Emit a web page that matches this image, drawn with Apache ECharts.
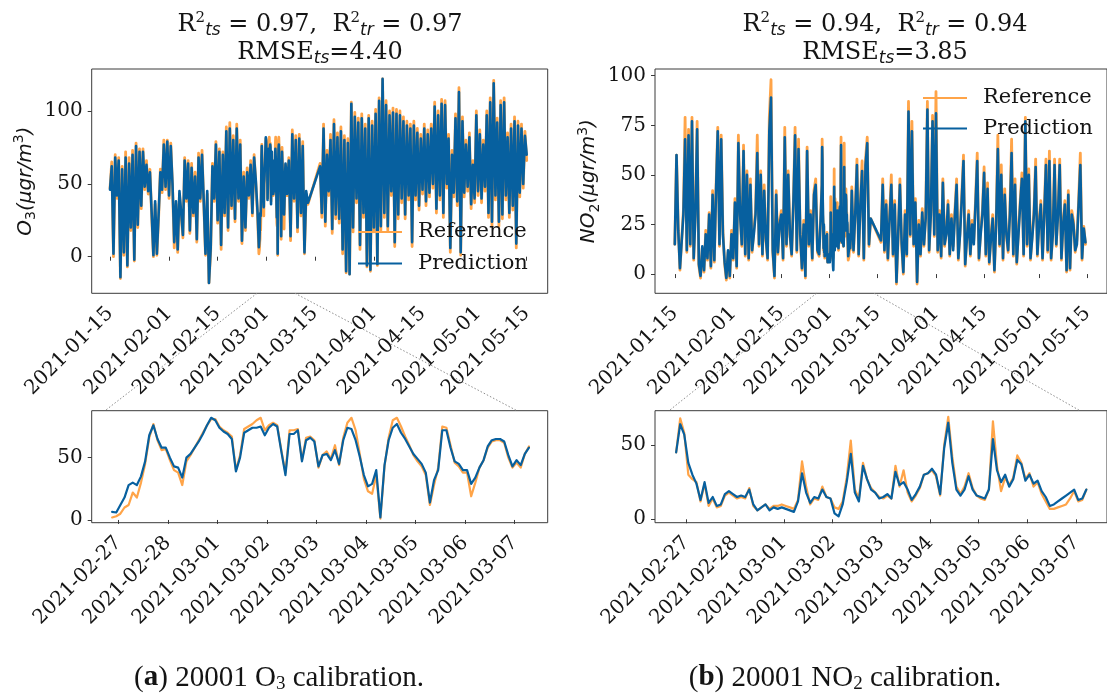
<!DOCTYPE html>
<html>
<head>
<meta charset="utf-8">
<script src="https://cdn.jsdelivr.net/npm/echarts@6/dist/echarts.min.js"></script>
<style>
  html, body { margin: 0; padding: 0; background: #ffffff; }
  #chart { width: 1107px; height: 693px; }
</style>
</head>
<body>
<div id="chart"></div>
<script>
// ---------- time helpers ----------
const HOUR = 3600e3, DAY = 24 * HOUR;
const utc = (y, m, d, h = 0, mi = 0) => Date.UTC(y, m - 1, d, h, mi);

// ---------- tick labels ----------
const overviewTicks = ['2021-01-15', '2021-02-01', '2021-02-15', '2021-03-01', '2021-03-15',
                       '2021-04-01', '2021-04-15', '2021-05-01', '2021-05-15'];
const detailTicks = ['2021-02-27', '2021-02-28', '2021-03-01', '2021-03-02', '2021-03-03',
                     '2021-03-04', '2021-03-05', '2021-03-06', '2021-03-07'];
const o3OverviewY = [0, 50, 100];
const no2OverviewY = [0, 25, 50, 75, 100];
const o3DetailY = [0, 50];
const no2DetailY = [0, 50];

// ---------- O3 (µg/m³) ----------
// 12-hourly, from 2021-01-15 00:00
const o3EarlyStart = utc(2021, 1, 15);
const o3EarlyRef = [47,65, 0,70, 40,68, -15,62, 1,72, -7,68, 18,73, -3,78, 20,74, 33,74, 46,66, 43,60, 28,0, 36,1, 27,60, 44,80, 46,80, 40,78, 48,6, 36,3, 43,28, 13,68, 38,66, 16,64, 28,58, 10,71, 38,73, 36,1, 43,-18, 4,64, 38,79, 23,74, 5,72, 28,89, 18,92, 33,83, 24,91, 38,80, 9,58, 18,61, 40,66, 28,70, 50,28];
const o3EarlyPred = [46,62, 2,68, 42,66, -14,60, 3,68, -6,64, 20,70, -2,76, 22,72, 35,72, 48,63, 45,58, 30,1, 38,2, 29,58, 46,77, 48,79, 42,76, 50,10, 38,5, 45,30, 15,66, 40,64, 18,61, 30,55, 12,68, 40,70, 38,2, 45,-18, 6,62, 40,77, 25,72, 8,70, 30,86, 20,88, 35,80, 26,88, 40,77, 11,55, 20,58, 42,63, 30,68, 52,30];
// 2-hourly detail window, from 2021-02-26 21:00
const o3ZoomStart = utc(2021, 2, 26, 21);
const o3ZoomRef = [2,3,5,10,12,22,18,30,45,66, 77,64,56,57,48,40,38,28,47,52, 58,64,70,76,81,81,75,72,70,67, 40,52,73,75,77,80,82,72,76,78, 76,56,38,72,72,73,48,66,67,64, 42,52,55,49,60,44,66,78,82,72, 53,33,23,21,36,1,43,66,80,82, 75,67,60,52,47,43,36,12,28,42, 75,74,60,46,43,38,38,19,30,42, 48,58,63,64,64,62,50,42,46,42, 53,59];
const o3ZoomPred = [6.5,6,12,18,28,30,28,35,47,68, 76,65,58,58,50,43,42,34,50,53, 58,63,69,76,82,80,74,71,69,65, 39,50,70,72,74,74,75,68,74,77, 75,55,36,69,69,72,47,64,66,63, 43,52,53,48,56,45,64,74,73,64, 51,36,27,29,40,2,44,64,74,77, 70,65,59,53,49,45,38,14,32,40, 72,72,58,47,45,40,40,29,34,42, 48,59,64,65,65,63,52,43,48,44, 53,58];
// 12-hourly, 2021-03-07 12:00 to 2021-03-13 00:00
const o3MidStart = utc(2021, 3, 7, 12);
const o3MidRef = [68,11,87,38,83,17,84,28,79,2,43,36];
const o3MidPred = [66,14,84,40,80,20,81,30,76,3,45,37];
// 12-hourly, from 2021-03-16 12:00
const o3LateStart = utc(2021, 3, 16, 12);
const o3LateRef = [64, 27,91, 21,73, 42,84, 16,94, 26,85, 23,89, 2,83, -11,81, -12,106, 17,99, 37,95, 5,98, 27,91, -7,97, -10,93, 17,101, -6,109, 18,122, 27,107, 18,100, 42,102, 7,101, 26,100, 37,96, 26,93, 39,91, 7,93, 39,88, 32,84, 43,91, 35,87, 41,91, 47,106, 30,100, 39,108, 27,107, 47,84, 3,73, 41,98, 35,116, 1,96, 41,80, 45,85, 33,66, 37,100, 42,87, 37,80, 45,100, 27,109, 21,121, 39,95, 21,107, 26,109, 39,85, 27,91, 32,96, 6,93, 41,91, 47,86, 66];
const o3LatePred = [62, 30,88, 24,70, 45,80, 19,91, 29,82, 26,86, 5,80, -10,78, -12,105, 20,96, 40,92, 8,95, 30,88, -6,95, -9,90, 20,98, -5,107, 21,122, 30,104, 21,97, 45,99, 10,98, 29,97, 40,93, 29,90, 42,88, 10,90, 42,85, 35,81, 46,88, 38,84, 44,88, 50,103, 33,97, 42,105, 30,104, 50,81, 6,70, 44,95, 38,113, 3,93, 44,77, 48,82, 36,63, 40,97, 45,84, 40,77, 48,97, 30,106, 24,119, 42,92, 24,104, 29,106, 42,82, 30,88, 35,93, 9,90, 44,88, 50,83, 70];

// ---------- NO2 (µg/m³) ----------
const no2EarlyStart = utc(2021, 1, 15);
const no2EarlyRef = [15,60, 24,2, 1,32, 79,11, 73,14, 79,7, 32,77, 4,-2, 13,1, 22,7, 31,3, 42,6, 44,74, 14,70, 22,5, -3,11, -2,22, 7,38, 3,70, 32,14, 65,9, 52,7, 48,11, 22,32, 70,14, 52,9, 45,17, 7,79, 98,11, -2,42, 10,27, 32,7, 74,14, 52,19, 9,37, 74,11, 68,19, 2,27, -2,64, 14,32, 7,42, 48,11, 9,32];
const no2EarlyPred = [15,60, 22,3, 2,30, 68,12, 70,15, 77,8, 30,73, 5,-1, 14,2, 20,8, 30,4, 40,7, 42,72, 15,68, 20,6, -2,12, -1,20, 8,36, 4,66, 30,15, 62,10, 50,8, 45,12, 20,30, 61,15, 50,10, 42,18, 8,72, 89,12, -1,40, 11,25, 30,8, 69,15, 50,20, 10,35, 70,12, 63,20, 3,25, -1,62, 15,30, 8,40, 45,12, 10,30];
const no2ZoomStart = utc(2021, 2, 26, 19);
const no2ZoomRef = [45,68,58,30,27,25,12,24,9,14, 8,9,16,18,16,14,15,14,21,9, 6,8,10,7,9,9,10,9,8,7, 13,39,22,10,14,13,22,15,14,8, 7,12,28,53,20,14,38,27,21,18, 15,14,16,14,36,22,33,18,12,16, 21,30,31,33,29,16,50,69,42,22, 17,22,31,21,16,14,13,20,66,36, 19,28,23,28,43,38,27,31,22,25, 17,12,7,7,8,9,10,14,19,12, 13,20];
const no2ZoomPred = [45,64,57,38,30,24,13,25,11,15, 9,10,17,19,17,15,16,15,20,10, 6,8,10,6,8,7,8,7,6,5, 12,31,18,11,15,14,20,15,14,4, 2,10,25,44,18,12,36,27,20,18, 14,15,17,14,32,23,25,20,13,17, 22,30,31,34,30,17,48,65,38,20, 16,20,29,20,16,15,14,20,54,33, 25,30,22,27,40,37,26,30,24,26, 19,15,9,10,12,14,16,18,20,13, 14,20];
const no2MidStart = utc(2021, 3, 7, 12);
const no2MidRef = [44,11,32,58,9,37,57,7,58,69,14,28];
const no2MidPred = [42,12,30,55,10,35,52,8,55,66,15,28];
const no2LateStart = utc(2021, 3, 16);
const no2LateRef = [16,48, 11,37, 7,30, 50,9, 37,-5, 19,48, 15,0, 32,9, 87,19, 77,14, 38,-5, 27,9, 33,14, 30,87, 11,32, 80,19, 92,11, 32,8, 48,14, 22,37, 9,30, 14,32, 48,7, 22,40, 60,4, 20,32, 9,27, 17,37, 61,7, 22,32, 54,9, 46,5, 20,30, 1,27, 70,14, 55,7, 43,19, 11,32, 68,9, 48,5, 22,37, 51,9, 79,14, 53,7, 20,32, 58,9, 27,37, 7,32, 58,11, 62,7, 22,58, 14,32, 58,7, 27,37, 1,42, 2,32, 27,11, 17,37, 61,7, 24,15];
const no2LatePred = [17,45, 12,35, 8,28, 45,10, 35,-4, 20,45, 16,1, 30,10, 82,20, 72,15, 36,-4, 25,10, 31,15, 28,83, 12,30, 77,20, 81,12, 30,9, 46,15, 20,35, 10,28, 12,30, 45,8, 20,38, 57,5, 18,30, 10,25, 15,35, 57,8, 20,30, 51,10, 43,6, 18,28, 2,25, 63,15, 50,8, 40,20, 12,30, 61,10, 45,6, 20,35, 48,10, 77,15, 50,8, 18,30, 54,10, 25,35, 8,30, 55,12, 57,8, 20,55, 15,30, 55,8, 25,35, 2,40, 3,30, 25,12, 15,35, 55,8, 23,16];

// ---------- build [time, value] pairs ----------
function stamp(start, stepHours, values) {
  return values.map((v, i) => [start + i * stepHours * HOUR, v]);
}
const o3RefAll = [...stamp(o3EarlyStart, 12, o3EarlyRef), ...stamp(o3ZoomStart, 2, o3ZoomRef),
                  ...stamp(o3MidStart, 12, o3MidRef), ...stamp(o3LateStart, 12, o3LateRef)];
const o3PredAll = [...stamp(o3EarlyStart, 12, o3EarlyPred), ...stamp(o3ZoomStart, 2, o3ZoomPred),
                   ...stamp(o3MidStart, 12, o3MidPred), ...stamp(o3LateStart, 12, o3LatePred)];
const no2RefAll = [...stamp(no2EarlyStart, 12, no2EarlyRef), ...stamp(no2ZoomStart, 2, no2ZoomRef),
                   ...stamp(no2MidStart, 12, no2MidRef), ...stamp(no2LateStart, 12, no2LateRef)];
const no2PredAll = [...stamp(no2EarlyStart, 12, no2EarlyPred), ...stamp(no2ZoomStart, 2, no2ZoomPred),
                    ...stamp(no2MidStart, 12, no2MidPred), ...stamp(no2LateStart, 12, no2LatePred)];

// ---------- styling ----------
const ORANGE = '#ffa448';
const BLUE = '#07609f';
const INK = '#141414';
const FRAME = '#3a3a3a';
const SERIF = '"DejaVu Serif", serif';
const SANS = '"DejaVu Sans", sans-serif';
const CAPTION = '"Liberation Serif", "Times New Roman", serif';

const pad2 = n => (n < 10 ? '0' : '') + n;
const fmtDate = v => { const d = new Date(v); return d.getUTCFullYear() + '-' + pad2(d.getUTCMonth() + 1) + '-' + pad2(d.getUTCDate()); };
const toStamp = s => { const [y, m, d] = s.split('-').map(Number); return utc(y, m, d); };

function xAxisDef(gridIndex, min, max, ticks) {
  const vals = ticks.map(toStamp);
  return {
    type: 'value', gridIndex, min, max,
    axisLine: { show: false }, splitLine: { show: false },
    axisTick: { show: true, customValues: vals, length: 4, lineStyle: { color: FRAME, width: 1 } },
    axisLabel: { customValues: vals, rotate: 45, margin: 17, formatter: fmtDate,
                 fontFamily: SERIF, fontSize: 20, color: INK }
  };
}
const nameRich = {
  i: { fontFamily: SANS, fontStyle: 'italic', fontWeight: 'normal', fontSize: 20, color: INK, lineHeight: 26 },
  s: { fontFamily: SANS, fontWeight: 'normal', fontSize: 14, color: INK, verticalAlign: 'bottom', lineHeight: 16 },
  p: { fontFamily: SANS, fontWeight: 'normal', fontSize: 14, color: INK, verticalAlign: 'top', lineHeight: 16 }
};
function yAxisDef(gridIndex, min, max, ticks, name, nameGap) {
  return {
    type: 'value', gridIndex, min, max,
    name: name || '', nameLocation: 'middle', nameRotate: 90, nameGap: nameGap || 0,
    nameTextStyle: { rich: nameRich },
    axisLine: { show: false }, splitLine: { show: false },
    axisTick: { show: true, customValues: ticks, length: 4, lineStyle: { color: FRAME, width: 1 } },
    axisLabel: { customValues: ticks, margin: 9, fontFamily: SERIF, fontSize: 20, color: INK }
  };
}
function lineSeries(name, xi, data, color, width) {
  return {
    type: 'line', name, xAxisIndex: xi, yAxisIndex: xi, data,
    symbol: 'none', color, lineStyle: { color, width, join: 'round', cap: 'round' },
    silent: true, animation: false
  };
}
const titleRich = {
  r: { fontFamily: SERIF, fontWeight: 'normal', fontSize: 24, color: INK, lineHeight: 28 },
  sup: { fontFamily: SERIF, fontWeight: 'normal', fontSize: 15, color: INK, verticalAlign: 'top', lineHeight: 18 },
  sub: { fontFamily: SANS, fontStyle: 'italic', fontWeight: 'normal', fontSize: 17, color: INK, verticalAlign: 'bottom', lineHeight: 14 }
};
const capRich = {
  t: { fontFamily: CAPTION, fontWeight: 'normal', fontSize: 29, color: INK, lineHeight: 32 },
  b: { fontFamily: CAPTION, fontWeight: 'bold', fontSize: 29, color: INK, lineHeight: 32 },
  s: { fontFamily: CAPTION, fontWeight: 'normal', fontSize: 19, color: INK, verticalAlign: 'bottom', lineHeight: 21 }
};
const legendDef = (left, top, gap) => ({
  data: ['Reference', 'Prediction'], orient: 'vertical', left, top, padding: 0,
  icon: 'rect', itemWidth: 44, itemHeight: 2, itemGap: gap, selectedMode: false,
  textStyle: { fontFamily: SERIF, fontSize: 21, color: INK, lineHeight: 24, padding: [0, 0, 0, 11] }
});

const option = {
  animation: false,
  backgroundColor: '#ffffff',
  title: [
    { text: '{r|R}{sup|2}{sub|ts}{r| = 0.97,  R}{sup|2}{sub|tr}{r| = 0.97}\n{r|RMSE}{sub|ts}{r|=4.40}',
      left: 320, top: 11, textAlign: 'center', padding: 0, textStyle: { fontWeight: 'normal', rich: titleRich } },
    { text: '{r|R}{sup|2}{sub|ts}{r| = 0.94,  R}{sup|2}{sub|tr}{r| = 0.94}\n{r|RMSE}{sub|ts}{r|=3.85}',
      left: 885, top: 11, textAlign: 'center', padding: 0, textStyle: { fontWeight: 'normal', rich: titleRich } },
    { text: '{t|(}{b|a}{t|) 20001 O}{s|3}{t| calibration.}', left: 279, top: 662,
      textAlign: 'center', padding: 0, textStyle: { fontWeight: 'normal', rich: capRich } },
    { text: '{t|(}{b|b}{t|) 20001 NO}{s|2}{t| calibration.}', left: 845, top: 662,
      textAlign: 'center', padding: 0, textStyle: { fontWeight: 'normal', rich: capRich } }
  ],
  legend: [legendDef(358, 220, 7.6), legendDef(923, 86, 6.6)],
  grid: [
    { left: 91.7, top: 69, width: 456, height: 224.3, show: true, borderColor: FRAME, borderWidth: 1 },
    { left: 655, top: 69, right: -7.4, height: 224.3, show: true, borderColor: FRAME, borderWidth: 1 },
    { left: 91.7, top: 410.7, width: 456, height: 112, show: true, borderColor: FRAME, borderWidth: 1 },
    { left: 655, top: 410.7, right: -7, height: 112, show: true, borderColor: FRAME, borderWidth: 1 }
  ],
  xAxis: [
    xAxisDef(0, utc(2021, 1, 15) - 5.27 * DAY, utc(2021, 5, 15) + 6.05 * DAY, overviewTicks),
    xAxisDef(1, utc(2021, 1, 15) - 5.76 * DAY, utc(2021, 5, 15) + 5.76 * DAY, overviewTicks),
    xAxisDef(2, utc(2021, 2, 27) - 0.537 * DAY, utc(2021, 3, 7) + 0.67 * DAY, detailTicks),
    xAxisDef(3, utc(2021, 2, 27) - 0.642 * DAY, utc(2021, 3, 7) + 0.632 * DAY, detailTicks)
  ],
  yAxis: [
    yAxisDef(0, -25.1, 128.8, o3OverviewY, '{i|O}{s|3}{i|(μgr/m}{p|3}{i|)}', 53),
    yAxisDef(1, -9.7, 103.4, no2OverviewY, '{i|NO}{s|2}{i|(μgr/m}{p|3}{i|)}', 53),
    yAxisDef(2, -2.2, 87.7, o3DetailY),
    yAxisDef(3, -2.3, 73.1, no2DetailY)
  ],
  series: [
    lineSeries('Reference', 0, o3RefAll, ORANGE, 2.8),
    lineSeries('Prediction', 0, o3PredAll, BLUE, 2.6),
    lineSeries('Reference', 1, no2RefAll, ORANGE, 2.8),
    lineSeries('Prediction', 1, no2PredAll, BLUE, 2.6),
    lineSeries('Reference', 2, stamp(o3ZoomStart, 2, o3ZoomRef), ORANGE, 2.2),
    lineSeries('Prediction', 2, stamp(o3ZoomStart, 2, o3ZoomPred), BLUE, 2.2),
    lineSeries('Reference', 3, stamp(no2ZoomStart, 2, no2ZoomRef), ORANGE, 2.2),
    lineSeries('Prediction', 3, stamp(no2ZoomStart, 2, no2ZoomPred), BLUE, 2.2)
  ],
  // dotted connectors between each overview panel and its detail panel
  graphic: [
    { type: 'line', shape: { x1: 257, y1: 293.3, x2: 105, y2: 410.7 }, silent: true,
      style: { stroke: '#8c8c8c', lineWidth: 1, lineDash: [1.5, 2] } },
    { type: 'line', shape: { x1: 295, y1: 293.3, x2: 517, y2: 410.7 }, silent: true,
      style: { stroke: '#8c8c8c', lineWidth: 1, lineDash: [1.5, 2] } },
    { type: 'line', shape: { x1: 816.5, y1: 293.3, x2: 669, y2: 410.7 }, silent: true,
      style: { stroke: '#8c8c8c', lineWidth: 1, lineDash: [1.5, 2] } },
    { type: 'line', shape: { x1: 874, y1: 293.3, x2: 1080, y2: 410.7 }, silent: true,
      style: { stroke: '#8c8c8c', lineWidth: 1, lineDash: [1.5, 2] } }
  ]
};

const chart = echarts.init(document.getElementById('chart'), null, { renderer: 'canvas' });
chart.setOption(option);
</script>
</body>
</html>
